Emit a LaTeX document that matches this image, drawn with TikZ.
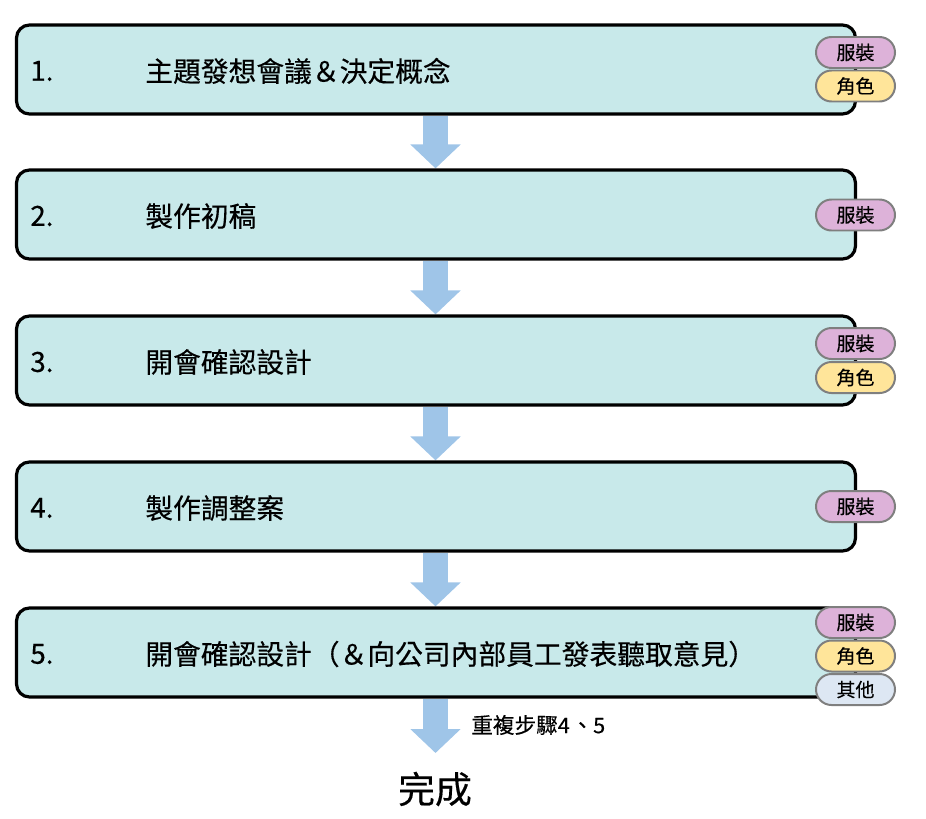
\documentclass[tikz,border=0pt]{standalone}
\usepackage{fontspec}
\setmainfont{Noto Sans CJK TC}
\newfontfamily\heavier{Noto Sans CJK TC}[FakeBold=0.35]
\usetikzlibrary{arrows.meta,shapes.misc,backgrounds}
\definecolor{boxfill}{HTML}{C8E9EA}
\definecolor{tagpurple}{HTML}{DDB2D9}
\definecolor{tagyellow}{HTML}{FFE59A}
\definecolor{tagblue}{HTML}{DDE7F3}
\definecolor{tagline}{HTML}{7F7F7F}
\definecolor{flowblue}{HTML}{9FC5E8}
\begin{document}
\begin{tikzpicture}[x=0.02cm,y=-0.02cm,
  stepbox/.style={draw=black,line width=3.2pt*0.567,fill=boxfill,rounded corners=13*0.02cm,
    minimum width=839*0.02cm,minimum height=89*0.02cm,inner sep=0pt},
  stepnum/.style={anchor=west,font=\heavier\fontsize{15.8}{18}\selectfont,inner sep=0pt},
  steptext/.style={anchor=west,font=\heavier\fontsize{15.8}{18}\selectfont,inner sep=0pt},
  tag/.style={rounded rectangle,draw=tagline,line width=2pt*0.567,minimum width=79*0.02cm,
    minimum height=31*0.02cm,inner sep=0pt,font=\heavier\fontsize{10.8}{12}\selectfont},
  costume/.style={tag,fill=tagpurple},
  role/.style={tag,fill=tagyellow},
  other/.style={tag,fill=tagblue},
  flow/.style={draw=flowblue,line width=25*0.02cm,
    -{Triangle[width=49*0.02cm,length=24*0.02cm]}}]
\useasboundingbox (0,0) rectangle (926,818);

% step boxes
\node[stepbox] (b1) at (436,69.5) {};
\node[stepbox] (b2) at (436,214.5) {};
\node[stepbox] (b3) at (436,360.5) {};
\node[stepbox] (b4) at (436,506.5) {};
\node[stepbox] (b5) at (436,652.5) {};

% numbers and titles
\node[stepnum] (n1) at (30,71) {1.};
\node[steptext] (t1) at (145,71) {主題發想會議＆決定概念};
\node[stepnum] (n2) at (30,216) {2.};
\node[steptext] (t2) at (145,216) {製作初稿};
\node[stepnum] (n3) at (30,362) {3.};
\node[steptext] (t3) at (145,362) {開會確認設計};
\node[stepnum] (n4) at (30,508) {4.};
\node[steptext] (t4) at (145,508) {製作調整案};
\node[stepnum] (n5) at (30,654) {5.};
\node[steptext] (t5) at (145,654) {開會確認設計（＆向公司內部員工發表聽取意見）};

% category tags
\node[costume] (c1) at (855.5,52.5) {服裝};
\node[role] (r1) at (855.5,86) {角色};
\node[costume] (c2) at (855.5,215) {服裝};
\node[costume] (c3) at (855.5,343.5) {服裝};
\node[role] (r3) at (855.5,377.5) {角色};
\node[costume] (c4) at (855.5,506.5) {服裝};
\node[costume] (c5) at (855.5,622.5) {服裝};
\node[role] (r5) at (855.5,656) {角色};
\node[other] (o5) at (855.5,689.5) {其他};

% ending
\coordinate (endtip) at (435.5,753);
\node[anchor=west,inner sep=0pt,font=\heavier\fontsize{12.3}{14}\selectfont] (rep) at (471,725) {重複步驟4\hspace{1pt}、5};
\node[inner sep=0pt,font=\heavier\fontsize{21}{24}\selectfont] (done) at (435,789) {完成};

% flow arrows behind the boxes
\begin{scope}[on background layer]
\draw[flow] (b1.south -| endtip) -- (b2.north -| endtip);
\draw[flow] (b2.south -| endtip) -- (b3.north -| endtip);
\draw[flow] (b3.south -| endtip) -- (b4.north -| endtip);
\draw[flow] (b4.south -| endtip) -- (b5.north -| endtip);
\draw[flow] (b5.south -| endtip) -- (endtip);
\end{scope}
\end{tikzpicture}
\end{document}
